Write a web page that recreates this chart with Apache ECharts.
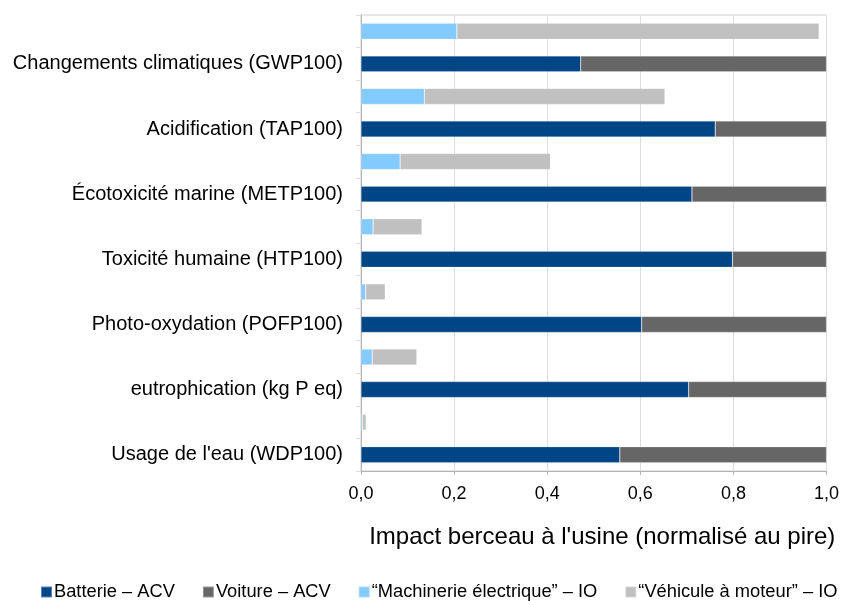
<!DOCTYPE html>
<html>
<head>
<meta charset="utf-8">
<script src="https://cdn.jsdelivr.net/npm/echarts@6/dist/echarts.min.js"></script>
<style>
  html, body { margin: 0; padding: 0; background: #fff; }
  #chart { width: 842px; height: 601px; }
</style>
</head>
<body>
<div id="chart"></div>
<script>
// Impact categories (top to bottom)
const categories = [
  'Changements climatiques (GWP100)',
  'Acidification (TAP100)',
  'Écotoxicité marine (METP100)',
  'Toxicité humaine (HTP100)',
  'Photo-oxydation (POFP100)',
  'eutrophication (kg P eq)',
  "Usage de l'eau (WDP100)"
];

// Life-cycle assessment (ACV) shares, normalised to the worst case
const batterieACV = [0.472, 0.761, 0.711, 0.798, 0.603, 0.704, 0.556];
const voitureACV  = [0.528, 0.239, 0.289, 0.202, 0.397, 0.296, 0.444];

// Input-output (IO) estimates
const machinerieIO = [0.206, 0.136, 0.084, 0.026, 0.010, 0.024, 0.003];
const vehiculeIO   = [0.778, 0.517, 0.323, 0.105, 0.042, 0.096, 0.008];

const xTicks = { min: 0, max: 1, interval: 0.2 };

// Each category gets two rows: IO bar above, ACV bar below (label on ACV row)
const rows = [];
categories.forEach(c => { rows.push('io|' + c); rows.push('acv|' + c); });

function onRows(values, kind) {
  const out = [];
  values.forEach(v => {
    if (kind === 'io') { out.push(v); out.push('-'); }
    else { out.push('-'); out.push(v); }
  });
  return out;
}

const FONT = '"Liberation Sans", Arial, sans-serif';
const colors = ['#004586', '#666666', '#83caff', '#c0c0c0'];

const chart = echarts.init(document.getElementById('chart'), null, { renderer: 'canvas' });

function barSeries(name, data, color) {
  return {
    name: name,
    type: 'bar',
    stack: 'total',
    data: data,
    barWidth: 16,
    itemStyle: { color: color, borderColor: 'rgba(255,255,255,0.35)', borderWidth: 0.6 },
    emphasis: { disabled: true },
    animation: false
  };
}

chart.setOption({
  animation: false,
  textStyle: { fontFamily: FONT },
  grid: {
    left: 361, right: 14, top: 15, bottom: 130,
    show: true, borderColor: '#cccccc', borderWidth: 1,
    containLabel: false
  },
  legend: {
    top: 583,
    left: 40,
    padding: 0,
    itemWidth: 11,
    itemHeight: 11,
    itemGap: 27,
    icon: 'rect',
    textStyle: { fontFamily: FONT, fontSize: 18.3, color: '#000', padding: [0, 0, 0, -3] },
    data: ['Batterie – ACV', 'Voiture – ACV', '“Machinerie électrique” – IO', '“Véhicule à moteur” – IO']
  },
  xAxis: {
    type: 'value',
    min: xTicks.min,
    max: xTicks.max,
    interval: xTicks.interval,
    name: "Impact berceau à l'usine (normalisé au pire)",
    nameLocation: 'middle',
    nameGap: 54,
    nameTextStyle: { fontFamily: FONT, fontSize: 24, color: '#000', padding: [0, 0, 0, 17] },
    axisLine: { show: true, lineStyle: { color: '#b3b3b3' } },
    axisTick: { show: true, length: 4, lineStyle: { color: '#b3b3b3' } },
    axisLabel: {
      fontFamily: FONT, fontSize: 18, color: '#000', margin: 14,
      formatter: v => v.toFixed(1).replace('.', ',')
    },
    splitLine: { show: true, lineStyle: { color: '#dddddd' } }
  },
  yAxis: {
    type: 'category',
    inverse: true,
    data: rows,
    axisLine: { show: true, lineStyle: { color: '#b3b3b3' } },
    axisTick: { show: true, length: 5, lineStyle: { color: '#dddddd' } },
    axisLabel: {
      interval: 0,
      fontFamily: FONT, fontSize: 20, color: '#000', margin: 18,
      formatter: v => v.startsWith('acv|') ? v.slice(4) : ''
    },
    splitLine: { show: false }
  },
  series: [
    barSeries('Batterie – ACV', onRows(batterieACV, 'acv'), colors[0]),
    barSeries('Voiture – ACV', onRows(voitureACV, 'acv'), colors[1]),
    barSeries('“Machinerie électrique” – IO', onRows(machinerieIO, 'io'), colors[2]),
    barSeries('“Véhicule à moteur” – IO', onRows(vehiculeIO, 'io'), colors[3])
  ]
});
</script>
</body>
</html>
